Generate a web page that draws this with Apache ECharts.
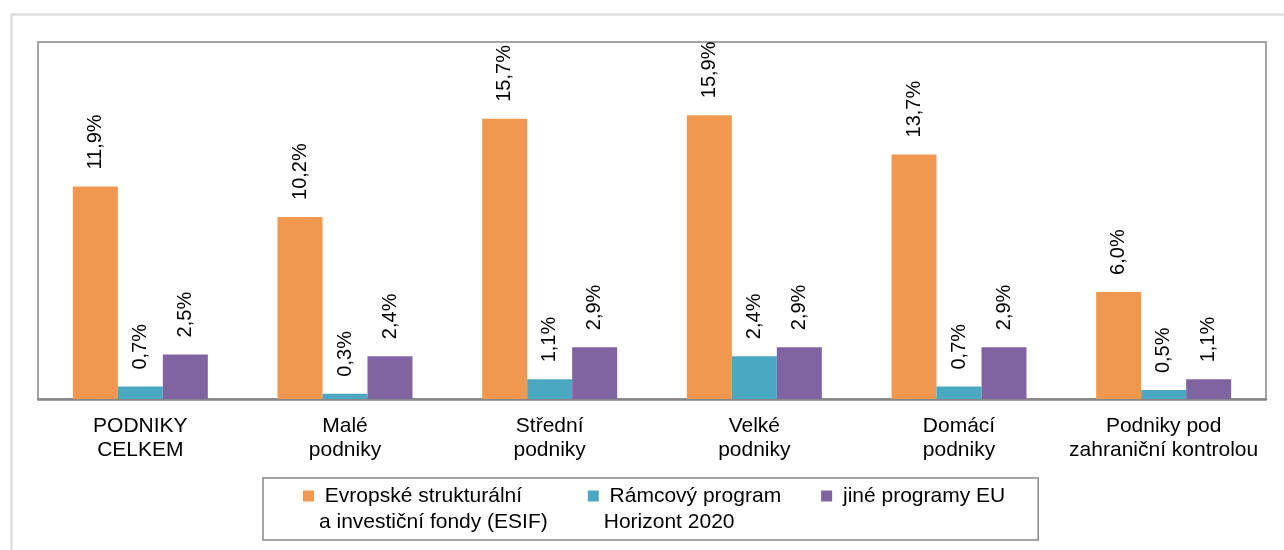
<!DOCTYPE html>
<html>
<head>
<meta charset="utf-8">
<script src="https://cdn.jsdelivr.net/npm/echarts@6/dist/echarts.min.js"></script>
<style>
  html, body { margin: 0; padding: 0; background: #fff; }
  #chart { width: 1284px; height: 550px; }
</style>
</head>
<body>
<div id="chart"></div>
<script>
// kategorie a hodnoty (%)
const categories = ['PODNIKY\nCELKEM', 'Malé\npodniky', 'Střední\npodniky', 'Velké\npodniky', 'Domácí\npodniky', 'Podniky pod\nzahraniční kontrolou']
const seriesNames = ['Evropské strukturální a investiční fondy (ESIF)', 'Rámcový program Horizont 2020', 'jiné programy EU']
const legendTexts = [' Evropské strukturální\na investiční fondy (ESIF)', ' Rámcový program\nHorizont 2020', ' jiné programy EU\n ']
const esifValues = [11.9, 10.2, 15.7, 15.9, 13.7, 6.0]
const horizontValues = [0.7, 0.3, 1.1, 2.4, 0.7, 0.5]
const otherValues = [2.5, 2.4, 2.9, 2.9, 2.9, 1.1]
const colors = ['#F0984F', '#4BA8C3', '#8064A2']

const chart = echarts.init(document.getElementById('chart'))

const fmt = v => v.toFixed(1).replace('.', ',') + '%'

function makeSeries(name, values, color) {
  return {
    name: name,
    type: 'bar',
    barWidth: 45,
    barGap: 0,
    itemStyle: { color: color },
    label: {
      show: true,
      position: 'top',
      rotate: 90,
      align: 'left',
      verticalAlign: 'middle',
      distance: 17,
      color: '#000',
      fontSize: 20,
      fontFamily: 'Liberation Sans, Arial, sans-serif',
      formatter: p => fmt(p.value)
    },
    data: values
  }
}

chart.setOption({
  animation: false,
  textStyle: { fontFamily: 'Liberation Sans, Arial, sans-serif' },
  graphic: [{
    type: 'rect',
    left: 9,
    top: 12,
    shape: { width: 1290, height: 560 },
    style: { fill: 'none', stroke: '#d9d9d9', lineWidth: 2 },
    silent: true
  }],
  legend: {
    data: seriesNames,
    left: 263,
    top: 478,
    orient: 'horizontal',
    padding: [5, 33, 5, 40],
    itemGap: 40,
    itemWidth: 11,
    itemHeight: 37,
    // ctverecek zarovnany k prvnimu radku textu
    icon: 'path://M0,0L11,0L11,11L0,11ZM0,37',
    borderColor: '#888',
    borderWidth: 1.5,
    formatter: name => legendTexts[seriesNames.indexOf(name)],
    textStyle: {
      color: '#000',
      fontSize: 21,
      lineHeight: 26,
      fontFamily: 'Liberation Sans, Arial, sans-serif'
    }
  },
  grid: {
    left: 38,
    top: 42,
    right: 18,
    bottom: 151,
    show: true,
    borderColor: '#888',
    borderWidth: 1.5
  },
  xAxis: {
    type: 'category',
    data: categories,
    axisTick: { show: false },
    axisLine: { lineStyle: { color: '#888', width: 2.5 } },
    axisLabel: {
      color: '#000',
      fontSize: 21,
      lineHeight: 24,
      margin: 15,
      interval: 0
    }
  },
  yAxis: {
    type: 'value',
    min: 0,
    max: 20,
    show: false,
    splitLine: { show: false }
  },
  series: [
    makeSeries(seriesNames[0], esifValues, colors[0]),
    makeSeries(seriesNames[1], horizontValues, colors[1]),
    makeSeries(seriesNames[2], otherValues, colors[2])
  ]
})
</script>
</body>
</html>
